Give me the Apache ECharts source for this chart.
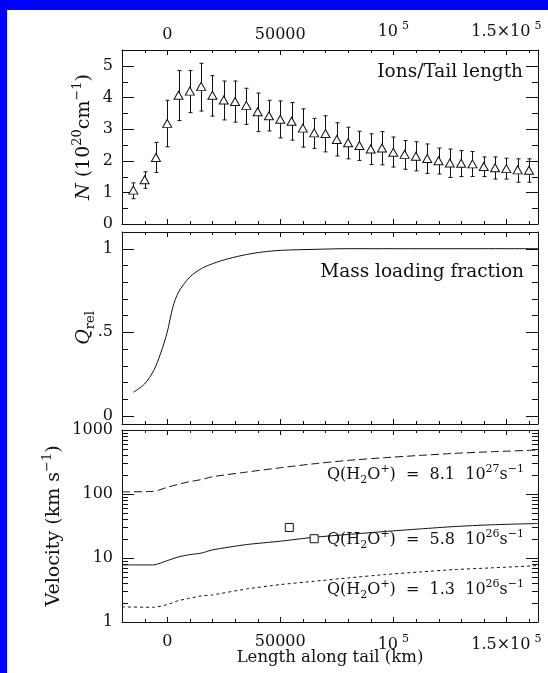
<!DOCTYPE html>
<html><head><meta charset="utf-8">
<script src="https://cdn.jsdelivr.net/npm/echarts@6/dist/echarts.min.js"></script>
<style>
html,body{margin:0;padding:0;background:#0000ff;width:548px;height:673px;overflow:hidden}
#c{position:absolute;left:7px;top:10px;width:541px;height:663px;background:#fff}
</style></head><body><div id="c"></div>
<script>
// ---------- data ----------
const tailX = [-15000,-10000,-5000,0,5000,10000,15000,20000,25000,30000,35000,40000,45000,50000,55000,60000,65000,70000,75000,80000,85000,90000,95000,100000,105000,110000,115000,120000,125000,130000,135000,140000,145000,150000,155000,160000];
const ionsN    = [1.07,1.40,2.10,3.18,4.07,4.20,4.35,4.07,3.92,3.87,3.75,3.55,3.42,3.31,3.25,3.03,2.88,2.86,2.67,2.57,2.48,2.37,2.40,2.27,2.20,2.14,2.07,2.00,1.93,1.92,1.90,1.82,1.78,1.75,1.71,1.70];
const ionsLow  = [0.80,1.13,1.63,2.44,3.27,3.52,3.57,3.41,3.29,3.22,3.15,2.92,2.94,2.72,2.65,2.43,2.39,2.28,2.15,2.06,2.01,1.88,1.87,1.80,1.73,1.68,1.60,1.58,1.47,1.50,1.50,1.50,1.42,1.42,1.32,1.32];
const ionsHigh = [1.30,1.65,2.58,3.91,4.85,4.85,5.08,4.69,4.52,4.52,4.29,4.14,3.91,3.89,3.84,3.64,3.34,3.42,3.20,3.06,2.93,2.85,2.92,2.75,2.64,2.60,2.53,2.40,2.37,2.32,2.29,2.12,2.12,2.08,2.06,2.06];

const qX   = [-15000,-10000,-6000,-3000,0,2500,5000,10000,15000,20000,27000,35000,42000,50000,65000,80000,100000,130000,164000];
const qRel = [0.14,0.19,0.27,0.37,0.50,0.65,0.74,0.83,0.88,0.91,0.94,0.965,0.98,0.99,0.996,1.0,1.0,1.0,1.0];

const velX    = [-20000,-6000,0,5000,10000,15000,20000,35000,50000,65000,80000,96000,112000,127000,143000,164000];
const velHigh = [108,110,127,142,156,168,186,220,257,297,335,369,401,431,457,486];
const velMid  = [7.8,7.8,9.1,10.4,11.3,11.9,13.4,16.2,18.3,21.1,23.3,25.9,28.5,31.0,33.0,34.6];
const velLow  = [1.72,1.70,1.87,2.16,2.35,2.55,2.65,3.28,3.84,4.33,4.88,5.5,6.06,6.59,7.0,7.6];

const obsX = [54000, 65000];
const obsV = [30, 20];

const xTickValues = [0, 50000, 100000, 150000];
const xTickLabels = ['0', '50000', '{a|10}{s|5}', '{a|1.5×10}{s|5}'];
const xMinorTicks = [-10000,10000,20000,30000,40000,60000,70000,80000,90000,110000,120000,130000,140000,160000];
const nMajor = [0,1,2,3,4,5];
const nMinor = [0.5,1.5,2.5,3.5,4.5];
const qMajor = [0,0.5,1];
const qMajorLabels = ['0','.5','1'];
const qMinor = [0.1,0.2,0.3,0.4,0.6,0.7,0.8,0.9];
const vMajor = [1,10,100,1000];
const vMajorLabels = ['1','10','100','1000'];
const vMinor = [2,3,4,5,6,7,8,9,20,30,40,50,60,70,80,90,200,300,400,500,600,700,800,900];

const panelNote1 = 'Ions/Tail length';
const panelNote2 = 'Mass loading fraction';
const qNotes = [
  '{t|Q(H}{sb|2}{t|O}{sp|+}{t|)  =  8.1  10}{sp|27}{t|s}{sp|−1}',
  '{t|Q(H}{sb|2}{t|O}{sp|+}{t|)  =  5.8  10}{sp|26}{t|s}{sp|−1}',
  '{t|Q(H}{sb|2}{t|O}{sp|+}{t|)  =  1.3  10}{sp|26}{t|s}{sp|−1}'
];

// ---------- style ----------
const INK = '#111';
const FONT = 'DejaVu Serif';
const X_MIN = -20000, X_MAX = 164000;

const richBase = {
  t:  {fontFamily: FONT, fontSize: 16, color: INK, lineHeight: 22},
  i:  {fontFamily: FONT, fontSize: 16, color: INK, fontStyle: 'italic', lineHeight: 22},
  sp: {fontFamily: FONT, fontSize: 11, color: INK, verticalAlign: 'top', lineHeight: 12},
  sb: {fontFamily: FONT, fontSize: 11, color: INK, verticalAlign: 'bottom', lineHeight: 12},
  a:  {fontFamily: FONT, fontSize: 16, color: INK, lineHeight: 22},
  s:  {fontFamily: FONT, fontSize: 11, color: INK, verticalAlign: 'top', lineHeight: 12, padding: [0,0,0,4]}
};
const richName = {
  t:  {fontFamily: FONT, fontSize: 19, color: INK, lineHeight: 26},
  i:  {fontFamily: FONT, fontSize: 19, color: INK, fontStyle: 'italic', lineHeight: 26},
  sp: {fontFamily: FONT, fontSize: 13, color: INK, verticalAlign: 'top', lineHeight: 14},
  sb: {fontFamily: FONT, fontSize: 13, color: INK, verticalAlign: 'bottom', lineHeight: 14}
};

function baseAxis(extra) {
  return Object.assign({
    axisLine: {show: true, onZero: false, lineStyle: {color: INK, width: 1}},
    axisTick: {show: false},
    minorTick: {show: false},
    splitLine: {show: false},
    axisLabel: {show: false},
    nameMoveOverlap: false
  }, extra);
}

function pick(values, labels, v, tol) {
  for (let k = 0; k < values.length; k++) if (Math.abs(v - values[k]) < tol) return labels[k];
  return '';
}

const grids = [
  {left: 115, width: 416, top: 40, height: 174, outerBoundsMode: 'none'},
  {left: 115, width: 416, top: 222, height: 192, outerBoundsMode: 'none'},
  {left: 115, width: 416, top: 420, height: 192, outerBoundsMode: 'none'}
];

const xLabelStyle = {show: true, formatter: v => pick(xTickValues, xTickLabels, v, 1),
  fontFamily: FONT, fontSize: 16, color: INK, rich: richBase};

const xAxes = [
  baseAxis({gridIndex: 0, type: 'value', min: X_MIN, max: X_MAX, interval: 10000, position: 'bottom'}),
  baseAxis({gridIndex: 0, type: 'value', min: X_MIN, max: X_MAX, interval: 10000, position: 'top',
    axisLabel: Object.assign({margin: 7}, xLabelStyle)}),
  baseAxis({gridIndex: 1, type: 'value', min: X_MIN, max: X_MAX, interval: 10000, position: 'bottom'}),
  baseAxis({gridIndex: 1, type: 'value', min: X_MIN, max: X_MAX, interval: 10000, position: 'top'}),
  baseAxis({gridIndex: 2, type: 'value', min: X_MIN, max: X_MAX, interval: 10000, position: 'bottom',
    axisLabel: Object.assign({margin: 12}, xLabelStyle),
    name: 'Length along tail (km)', nameLocation: 'middle', nameGap: 27,
    nameTextStyle: {fontFamily: FONT, fontSize: 16.5, color: INK}}),
  baseAxis({gridIndex: 2, type: 'value', min: X_MIN, max: X_MAX, interval: 10000, position: 'top'})
];

const yLabelStyle = {show: true, fontFamily: FONT, fontSize: 16, color: INK, margin: 9};
const nameStyle = {fontFamily: FONT, fontSize: 19, color: INK, lineHeight: 26, rich: richName};
const yAxes = [
  baseAxis({gridIndex: 0, type: 'value', min: 0, max: 5.5, interval: 1, position: 'left',
    axisLabel: Object.assign({formatter: v => pick(nMajor, nMajor.map(String), v, 1e-6)}, yLabelStyle),
    name: '{i|N} {t|(10}{sp|20}{t|cm}{sp|−1}{t|)}', nameLocation: 'middle', nameGap: 25, nameRotate: 90,
    nameTextStyle: nameStyle}),
  baseAxis({gridIndex: 0, type: 'value', min: 0, max: 5.5, interval: 1, position: 'right'}),
  baseAxis({gridIndex: 1, type: 'value', min: -0.05, max: 1.1, interval: 0.05, position: 'left',
    axisLabel: Object.assign({formatter: v => pick(qMajor, qMajorLabels, v, 1e-6)}, yLabelStyle),
    name: '{i|Q}{sb|rel}', nameLocation: 'middle', nameGap: 25, nameRotate: 90,
    nameTextStyle: nameStyle}),
  baseAxis({gridIndex: 1, type: 'value', min: -0.05, max: 1.1, interval: 0.05, position: 'right'}),
  baseAxis({gridIndex: 2, type: 'log', logBase: 10, min: 1, max: 1000, position: 'left',
    axisLabel: Object.assign({formatter: v => pick(vMajor, vMajorLabels, v, 1e-6)}, yLabelStyle),
    name: '{t|Velocity (km s}{sp|−1}{t|)}', nameLocation: 'middle', nameGap: 55, nameRotate: 90,
    nameTextStyle: nameStyle}),
  baseAxis({gridIndex: 2, type: 'log', logBase: 10, min: 1, max: 1000, position: 'right'})
];

// tick marks drawn through the axis scales (all four sides of each panel)
function tickData(xMaj, xMin, yMaj, yMin, xRef, yRef) {
  const d = [];
  xMaj.forEach(v => d.push([v, yRef, 0, 1]));
  xMin.forEach(v => d.push([v, yRef, 0, 0]));
  yMaj.forEach(v => d.push([xRef, v, 1, 1]));
  yMin.forEach(v => d.push([xRef, v, 1, 0]));
  return d;
}
function tickRender(params, api) {
  const cs = params.coordSys;
  const p = api.coord([api.value(0), api.value(1)]);
  const kind = api.value(2), major = api.value(3);
  const st = {stroke: INK, lineWidth: 1};
  if (kind === 0) {
    const len = major ? 5 : 3;
    const x = Math.round(p[0]) + 0.5;
    const yb = cs.y + cs.height, yt = cs.y;
    return {type: 'group', children: [
      {type: 'line', shape: {x1: x, y1: yb, x2: x, y2: yb - len}, style: st},
      {type: 'line', shape: {x1: x, y1: yt, x2: x, y2: yt + len}, style: st}
    ]};
  } else {
    const len = major ? 12 : 6;
    const y = Math.round(p[1]) + 0.5;
    const xl = cs.x, xr = cs.x + cs.width;
    return {type: 'group', children: [
      {type: 'line', shape: {x1: xl, y1: y, x2: xl + len, y2: y}, style: st},
      {type: 'line', shape: {x1: xr, y1: y, x2: xr - len, y2: y}, style: st}
    ]};
  }
}
function tickSeries(gi, data) {
  return {type: 'custom', xAxisIndex: gi*2, yAxisIndex: gi*2, data: data, renderItem: tickRender,
    silent: true, clip: false, encode: {x: 0, y: 1}, z: 1};
}

const errData = tailX.map((x, i) => [x, ionsLow[i], ionsHigh[i]]);

const series = [
  tickSeries(0, tickData(xTickValues, xMinorTicks, nMajor, nMinor, X_MIN, 0)),
  tickSeries(1, tickData(xTickValues, xMinorTicks, qMajor, qMinor, X_MIN, -0.05)),
  tickSeries(2, tickData(xTickValues, xMinorTicks, vMajor, vMinor, X_MIN, 1)),
  {
    type: 'custom', xAxisIndex: 0, yAxisIndex: 0, data: errData, silent: true, z: 2,
    encode: {x: 0, y: [1, 2]},
    renderItem: (params, api) => {
      const x = api.value(0);
      const lo = api.coord([x, api.value(1)]);
      const hi = api.coord([x, api.value(2)]);
      const px = Math.round(lo[0]) + 0.5, cap = 2;
      const st = {stroke: INK, lineWidth: 1};
      return {type: 'group', children: [
        {type: 'line', shape: {x1: px, y1: lo[1], x2: px, y2: hi[1]}, style: st},
        {type: 'line', shape: {x1: px - cap, y1: lo[1], x2: px + cap, y2: lo[1]}, style: st},
        {type: 'line', shape: {x1: px - cap, y1: hi[1], x2: px + cap, y2: hi[1]}, style: st}
      ]};
    }
  },
  {
    type: 'scatter', xAxisIndex: 0, yAxisIndex: 0, z: 3, silent: true,
    data: tailX.map((x, i) => [x, ionsN[i]]),
    symbol: 'triangle', symbolSize: [9, 8],
    itemStyle: {color: '#fff', borderColor: INK, borderWidth: 1, opacity: 1}
  },
  {
    type: 'line', xAxisIndex: 2, yAxisIndex: 2, silent: true, smooth: 0.3,
    data: qX.map((x, i) => [x, qRel[i]]), showSymbol: false,
    lineStyle: {color: INK, width: 1}
  },
  {
    type: 'line', xAxisIndex: 4, yAxisIndex: 4, silent: true, smooth: 0.2,
    data: velX.map((x, i) => [x, velHigh[i]]), showSymbol: false,
    lineStyle: {color: INK, width: 1, type: [8, 4]}
  },
  {
    type: 'line', xAxisIndex: 4, yAxisIndex: 4, silent: true, smooth: 0.2,
    data: velX.map((x, i) => [x, velMid[i]]), showSymbol: false,
    lineStyle: {color: INK, width: 1}
  },
  {
    type: 'line', xAxisIndex: 4, yAxisIndex: 4, silent: true, smooth: 0.2,
    data: velX.map((x, i) => [x, velLow[i]]), showSymbol: false,
    lineStyle: {color: INK, width: 1, type: [3, 3]}
  },
  {
    type: 'scatter', xAxisIndex: 4, yAxisIndex: 4, silent: true, z: 4,
    data: obsX.map((x, i) => [x, obsV[i]]),
    symbol: 'rect', symbolSize: 8,
    itemStyle: {color: '#fff', borderColor: INK, borderWidth: 1, opacity: 1}
  }
];

function note(text, x, y, size) {
  return {type: 'text', x: x, y: y, z: 10, silent: true,
    style: {text: text, fill: INK, fontFamily: FONT, fontSize: size, align: 'right', verticalAlign: 'middle', rich: richBase}};
}

const chart = echarts.init(document.getElementById('c'), null, {renderer: 'canvas'});
chart.setOption({
  animation: false,
  backgroundColor: '#fff',
  grid: grids,
  xAxis: xAxes,
  yAxis: yAxes,
  series: series,
  graphic: [
    note(panelNote1, 516, 62, 18.5),
    note(panelNote2, 517, 262, 18.5),
    note(qNotes[0], 517, 465, 16),
    note(qNotes[1], 517, 530, 16),
    note(qNotes[2], 517, 580, 16)
  ]
});
</script></body></html>
